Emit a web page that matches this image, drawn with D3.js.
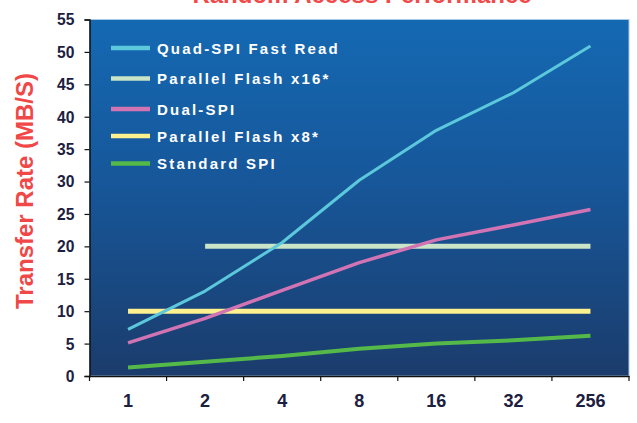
<!DOCTYPE html>
<html><head><meta charset="utf-8">
<script src="https://cdn.jsdelivr.net/npm/d3@7"></script>
<style>body{margin:0;background:#fff}svg{display:block}</style>
</head><body>
<svg id="c" width="637" height="423"></svg>
<script>
const categories = ["1","2","4","8","16","32","256"];
const quadSPI    = [7.2, 13.1, 20.6, 30.2, 37.9, 43.7, 50.9];
const parallel16 = [null, 20, 20, 20, 20, 20, 20];
const dualSPI    = [5.1, 8.9, 13.2, 17.5, 21.0, 23.3, 25.7];
const parallel8  = [10, 10, 10, 10, 10, 10, 10];
const standardSPI= [1.3, 2.2, 3.1, 4.2, 5.0, 5.5, 6.2];
const yTicks = [0,5,10,15,20,25,30,35,40,45,50,55];
const seriesNames = ["Quad-SPI Fast Read","Parallel Flash x16*","Dual-SPI","Parallel Flash x8*","Standard SPI"];

const series = [
  {name: seriesNames[0], values: quadSPI,    color: "#5cc8dc", w: 3},
  {name: seriesNames[1], values: parallel16, color: "#c9e4c6", w: 5},
  {name: seriesNames[2], values: dualSPI,    color: "#d274b4", w: 3.5},
  {name: seriesNames[3], values: parallel8,  color: "#fdf08e", w: 5},
  {name: seriesNames[4], values: standardSPI,color: "#54b948", w: 4}
];

const svg = d3.select("#c");
const L = 89.5, R = 629, T = 19.5, B = 376;
const x = d3.scaleBand().domain(categories).range([L, R]);
const y = d3.scaleLinear().domain([0, 55]).range([B, T]);

const defs = svg.append("defs");
const g = defs.append("linearGradient").attr("id","bg").attr("x1",0).attr("y1",0).attr("x2",0).attr("y2",1);
g.append("stop").attr("offset","0%").attr("stop-color","#1469b3");
g.append("stop").attr("offset","45%").attr("stop-color","#17579a");
g.append("stop").attr("offset","100%").attr("stop-color","#1b3c6c");

// title (cut off at top, as in the reference)
svg.append("text").attr("x", 362).attr("y", 3)
  .attr("text-anchor","middle").attr("fill","#f04a4a")
  .attr("font-family","Liberation Sans, Arial, sans-serif").attr("font-weight","bold")
  .attr("font-size", 24).text("Random Access Performance");

svg.append("rect").attr("x", L).attr("y", T).attr("width", R - L).attr("height", B - T)
  .attr("fill","url(#bg)").attr("stroke","#a9c9e9").attr("stroke-width",1);

const tickFont = "Liberation Sans, Arial, sans-serif";
// axes
const yAxis = d3.axisLeft(y).tickValues(yTicks).tickSize(5).tickPadding(9);
const ya = svg.append("g").attr("transform",`translate(${L},0)`).call(yAxis);
ya.select(".domain").attr("stroke","#111").attr("stroke-width",1.5);
ya.selectAll(".tick line").attr("stroke","#111").attr("stroke-width",1.2);
ya.selectAll("text").attr("fill","#1c2040").attr("font-size",17).attr("font-weight","bold")
  .attr("font-family",tickFont).attr("transform","scale(0.92,1)").attr("x",-15/0.92);

const xAxis = d3.axisBottom(x).tickSize(0);
const xa = svg.append("g").attr("transform",`translate(0,${B})`).call(xAxis);
xa.select(".domain").attr("stroke","#111").attr("stroke-width",1.5);
xa.selectAll("text").attr("fill","#1c2040").attr("font-size",18).attr("font-weight","bold")
  .attr("font-family",tickFont).attr("y",31).attr("dy",0);
// band boundary ticks
const bounds = categories.map(c => x(c)).concat([x(categories[categories.length-1]) + x.bandwidth()]);
xa.selectAll(".bt").data(bounds).join("line").attr("class","bt")
  .attr("x1", d => d).attr("x2", d => d).attr("y1", 0).attr("y2", 5)
  .attr("stroke","#111").attr("stroke-width",1.2);

// y label
svg.append("text").attr("transform","translate(33,191) rotate(-90)")
  .attr("text-anchor","middle").attr("fill","#f04848")
  .attr("font-family","Liberation Sans, Arial, sans-serif").attr("font-weight","bold")
  .attr("font-size",24).text("Transfer Rate (MB/S)");

// lines
const line = d3.line().defined(d => d.v != null)
  .x(d => x(d.c) + x.bandwidth()/2).y(d => y(d.v));
const drawOrder = [1, 3, 4, 2, 0];
drawOrder.forEach(i => {
  const s = series[i];
  svg.append("path").datum(categories.map((c, j) => ({c, v: s.values[j]})))
    .attr("d", line).attr("fill","none").attr("stroke", s.color)
    .attr("stroke-width", s.w).attr("stroke-linejoin","round");
});

// legend
const legY = [48, 78.5, 109, 136, 163.5];
series.forEach((s, i) => {
  svg.append("line").attr("x1",111).attr("x2",150).attr("y1",legY[i]).attr("y2",legY[i])
    .attr("stroke", s.color).attr("stroke-width",4.5);
  svg.append("text").attr("x",157).attr("y",legY[i]+5.5)
    .attr("fill","#ffffff").attr("font-family","Liberation Sans, Arial, sans-serif")
    .attr("font-weight","bold").attr("font-size",15).attr("letter-spacing",2.2)
    .text(s.name);
});
</script>
</body></html>
